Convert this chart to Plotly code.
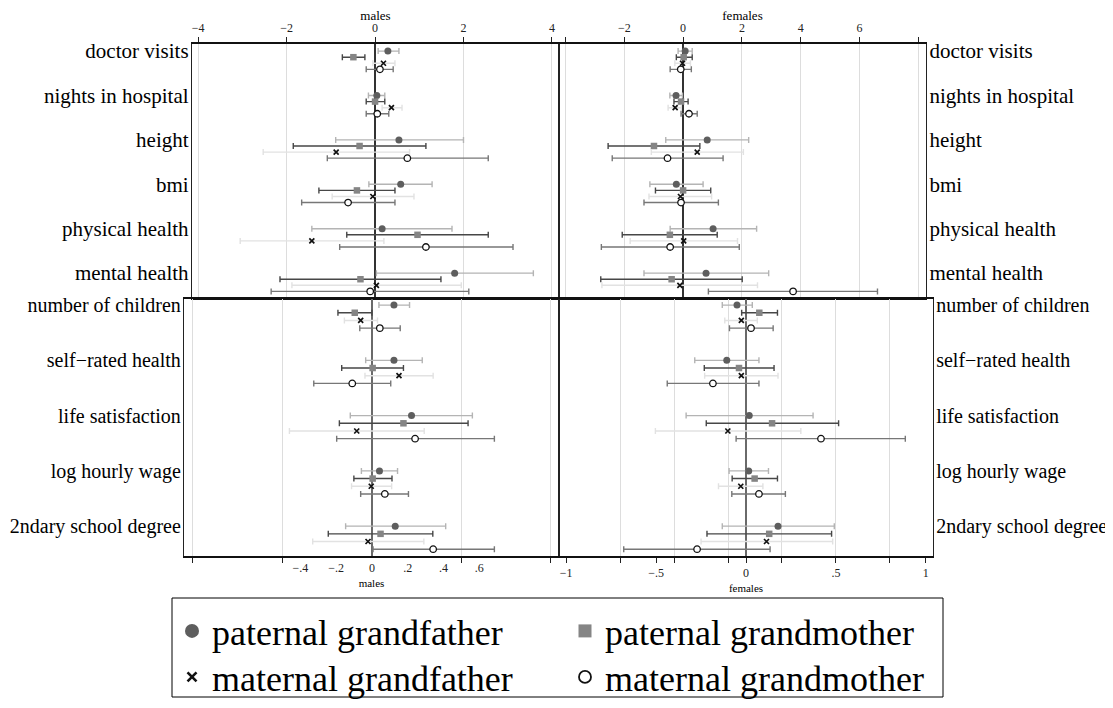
import plotly.graph_objects as go

# page is rendered with an 8px body margin; figure coordinates = page pixels - 8
PAGE_OFF = 8
FW, FH = 1113 - PAGE_OFF, 708 - PAGE_OFF

# ---------------- data ----------------
outcomes_top = ["doctor visits", "nights in hospital", "height", "bmi",
                "physical health", "mental health"]
outcomes_bottom = ["number of children", "self\u2212rated health", "life satisfaction",
                   "log hourly wage", "2ndary school degree"]
series_names = ["paternal grandfather", "paternal grandmother",
                "maternal grandfather", "maternal grandmother"]

# top-left: males
m_top_pgf = [0.29, 0.04, 0.54, 0.58, 0.16, 1.80]
m_top_pgf_lo = [0.07, -0.15, -0.89, -0.14, -1.43, 0.03]
m_top_pgf_hi = [0.54, 0.22, 2.00, 1.29, 1.74, 3.58]
m_top_pgm = [-0.49, 0.00, -0.35, -0.41, 0.96, -0.33]
m_top_pgm_lo = [-0.74, -0.20, -1.85, -1.27, -0.64, -2.15]
m_top_pgm_hi = [-0.23, 0.22, 1.15, 0.45, 2.56, 1.49]
m_top_mgf = [0.19, 0.37, -0.88, -0.05, -1.43, 0.03]
m_top_mgf_lo = [-0.05, 0.16, -2.53, -0.97, -3.05, -1.88]
m_top_mgf_hi = [0.45, 0.61, 0.78, 0.88, 0.20, 1.95]
m_top_mgm = [0.11, 0.05, 0.73, -0.61, 1.15, -0.11]
m_top_mgm_lo = [-0.20, -0.20, -1.08, -1.66, -0.80, -2.35]
m_top_mgm_hi = [0.41, 0.31, 2.56, 0.45, 3.12, 2.12]

# top-right: females
f_top_pgf = [0.07, -0.24, 0.82, -0.23, 1.02, 0.78]
f_top_pgf_lo = [-0.17, -0.45, -0.59, -1.13, -0.44, -1.33]
f_top_pgf_hi = [0.31, -0.02, 2.23, 0.68, 2.50, 2.91]
f_top_pgm = [0.02, -0.07, -0.99, 0.00, -0.45, -0.39]
f_top_pgm_lo = [-0.23, -0.31, -2.55, -0.94, -2.07, -2.80]
f_top_pgm_hi = [0.31, 0.17, 0.57, 0.94, 1.16, 2.01]
f_top_mgf = [-0.02, -0.27, 0.48, -0.09, 0.02, -0.11]
f_top_mgf_lo = [-0.28, -0.51, -1.08, -1.16, -1.80, -2.76]
f_top_mgf_hi = [0.25, -0.06, 2.05, 0.97, 1.85, 2.53]
f_top_mgm = [-0.08, 0.20, -0.53, -0.07, -0.44, 3.74]
f_top_mgm_lo = [-0.44, -0.07, -2.41, -1.33, -2.78, 0.86]
f_top_mgm_hi = [0.28, 0.48, 1.36, 1.20, 1.91, 6.61]

# bottom-left: males
m_bot_pgf = [0.123, 0.123, 0.221, 0.042, 0.130]
m_bot_pgf_lo = [0.039, -0.035, -0.121, -0.059, -0.147]
m_bot_pgf_hi = [0.210, 0.281, 0.561, 0.143, 0.412]
m_bot_pgm = [-0.096, 0.004, 0.176, 0.004, 0.048]
m_bot_pgm_lo = [-0.190, -0.169, -0.182, -0.101, -0.244]
m_bot_pgm_hi = [0.000, 0.176, 0.537, 0.112, 0.340]
m_bot_mgf = [-0.063, 0.151, -0.085, -0.004, -0.022]
m_bot_mgf_lo = [-0.154, -0.039, -0.461, -0.114, -0.331]
m_bot_mgf_hi = [0.031, 0.342, 0.292, 0.110, 0.290]
m_bot_mgm = [0.044, -0.110, 0.241, 0.072, 0.342]
m_bot_mgm_lo = [-0.068, -0.325, -0.197, -0.063, 0.006]
m_bot_mgm_hi = [0.158, 0.105, 0.684, 0.204, 0.684]

# bottom-right: females
f_bot_pgf = [-0.050, -0.107, 0.018, 0.015, 0.178]
f_bot_pgf_lo = [-0.132, -0.285, -0.333, -0.094, -0.132]
f_bot_pgf_hi = [0.035, 0.072, 0.373, 0.125, 0.491]
f_bot_pgm = [0.074, -0.039, 0.145, 0.048, 0.129]
f_bot_pgm_lo = [-0.024, -0.232, -0.221, -0.077, -0.217]
f_bot_pgm_hi = [0.175, 0.156, 0.515, 0.175, 0.476]
f_bot_mgf = [-0.026, -0.026, -0.101, -0.029, 0.114]
f_bot_mgf_lo = [-0.118, -0.230, -0.504, -0.153, -0.250]
f_bot_mgf_hi = [0.063, 0.178, 0.305, 0.094, 0.482]
f_bot_mgm = [0.028, -0.184, 0.417, 0.072, -0.272]
f_bot_mgm_lo = [-0.092, -0.438, -0.055, -0.079, -0.680]
f_bot_mgm_hi = [0.151, 0.072, 0.886, 0.219, 0.134]

top_ticks_m = [-4, -2, 0, 2, 4]
top_ticktext_m = ["\u22124", "\u22122", "0", "2", "4"]
top_ticks_f = [-4, -2, 0, 2, 4, 6, 8]
top_ticktext_f = ["", "\u22122", "0", "2", "4", "6", ""]
bot_ticks_m = [-0.4, -0.2, 0, 0.2, 0.4, 0.6]
bot_ticktext_m = ["\u2212.4", "\u2212.2", "0", ".2", ".4", ".6"]
bot_minor_m = [-1, -0.5, 0.5, 1]
bot_ticks_f = [-1, -0.5, 0, 0.5, 1]
bot_ticktext_f = ["\u22121", "\u2212.5", "0", ".5", "1"]
bot_minor_f = [-0.7, -0.4, -0.1, 0.2, 0.5, 0.8]

# ---------------- styles ----------------
SERIF = "Liberation Serif"
styles = [
    dict(symbol="circle", size=7, color="#5e5e5e", line=dict(width=0), ebar="#b4b4b4"),
    dict(symbol="square", size=6.5, color="#858585", line=dict(width=0), ebar="#474747"),
    dict(symbol="x-thin", size=5, color="#111111", line=dict(width=1.7, color="#111111"), ebar="#e2e2e2"),
    dict(symbol="circle", size=6.5, color="white", line=dict(width=1.3, color="#111111"), ebar="#777777"),
]
legend_markers = [
    dict(symbol="circle", size=14, color="#5e5e5e", line=dict(width=0)),
    dict(symbol="square", size=13, color="#858585", line=dict(width=0)),
    dict(symbol="x-thin", size=9, color="#111111", line=dict(width=2.6, color="#111111")),
    dict(symbol="circle", size=12, color="white", line=dict(width=1.8, color="#111111")),
]
OFF_TOP = 0.137
OFF_BOT = 0.139

fig = go.Figure()

panels = [
    ("x", "y", [(m_top_pgf, m_top_pgf_lo, m_top_pgf_hi), (m_top_pgm, m_top_pgm_lo, m_top_pgm_hi),
                (m_top_mgf, m_top_mgf_lo, m_top_mgf_hi), (m_top_mgm, m_top_mgm_lo, m_top_mgm_hi)], OFF_TOP),
    ("x2", "y2", [(f_top_pgf, f_top_pgf_lo, f_top_pgf_hi), (f_top_pgm, f_top_pgm_lo, f_top_pgm_hi),
                  (f_top_mgf, f_top_mgf_lo, f_top_mgf_hi), (f_top_mgm, f_top_mgm_lo, f_top_mgm_hi)], OFF_TOP),
    ("x3", "y3", [(m_bot_pgf, m_bot_pgf_lo, m_bot_pgf_hi), (m_bot_pgm, m_bot_pgm_lo, m_bot_pgm_hi),
                  (m_bot_mgf, m_bot_mgf_lo, m_bot_mgf_hi), (m_bot_mgm, m_bot_mgm_lo, m_bot_mgm_hi)], OFF_BOT),
    ("x4", "y4", [(f_bot_pgf, f_bot_pgf_lo, f_bot_pgf_hi), (f_bot_pgm, f_bot_pgm_lo, f_bot_pgm_hi),
                  (f_bot_mgf, f_bot_mgf_lo, f_bot_mgf_hi), (f_bot_mgm, f_bot_mgm_lo, f_bot_mgm_hi)], OFF_BOT),
]

for xa, ya, sers, off in panels:
    for k, (est, lo, hi) in enumerate(sers):
        st = styles[k]
        ys = [i + k * off for i in range(len(est))]
        fig.add_trace(go.Scatter(
            x=est, y=ys, xaxis=xa, yaxis=ya, mode="markers", showlegend=False,
            name=series_names[k],
            marker=dict(symbol=st["symbol"], size=st["size"], color=st["color"], line=st["line"]),
            error_x=dict(type="data", symmetric=False,
                         array=[h - e for e, h in zip(est, hi)],
                         arrayminus=[e - l for e, l in zip(est, lo)],
                         color=st["ebar"], thickness=1.4, width=3),
        ))

# legend entries
for k in range(4):
    fig.add_trace(go.Scatter(
        x=[None], y=[None], mode="markers", name=series_names[k],
        legend="legend" if k < 2 else "legend2",
        legendwidth=348 if k % 2 == 0 else 325,
        marker=legend_markers[k],
    ))


def dx(a, b):
    return [(a - PAGE_OFF) / FW, (b - PAGE_OFF) / FW]


def dy(top, bottom):
    return [1 - (bottom - PAGE_OFF) / FH, 1 - (top - PAGE_OFF) / FH]


def px(a):
    return (a - PAGE_OFF) / FW


def py(a):
    return 1 - (a - PAGE_OFF) / FH


tickfont = dict(family=SERIF, size=12, color="#222")
labfont_top = dict(family=SERIF, size=21, color="black")
labfont_bot = dict(family=SERIF, size=20, color="black")
GRID = "#dddddd"

common_x = dict(showgrid=True, gridcolor=GRID, gridwidth=1, ticks="outside", ticklen=5,
                tickcolor="#222", tickfont=tickfont, showline=True, linecolor="#111",
                mirror=True, fixedrange=True, automargin=False)
common_y = dict(showgrid=False, zeroline=False, ticks="",
                showline=True, linecolor="#222", linewidth=1.4, mirror=True, fixedrange=True,
                automargin=False, ticklabelstandoff=-2)

fig.update_layout(
    width=FW, height=FH, margin=dict(l=0, r=0, t=0, b=0, autoexpand=False),
    paper_bgcolor="white", plot_bgcolor="rgba(0,0,0,0)",
    font=dict(family=SERIF, color="black"),
    xaxis=dict(common_x, domain=dx(192, 559), anchor="y", side="top", range=[-4.14, 4.16],
               tickmode="array", tickvals=top_ticks_m, ticktext=top_ticktext_m,
               zeroline=True, zerolinecolor="#333", zerolinewidth=1.5, linewidth=1.5,
               title=dict(text="males", font=dict(family=SERIF, size=13), standoff=3)),
    yaxis=dict(common_y, domain=dy(44, 298), anchor="x", range=[5.56, -0.16], tickfont=labfont_top,
               tickmode="array", tickvals=list(range(6)), ticktext=outcomes_top, side="left"),
    xaxis2=dict(common_x, domain=dx(559, 926), anchor="y2", side="top", range=[-4.22, 8.26],
                tickmode="array", tickvals=top_ticks_f, ticktext=top_ticktext_f,
                zeroline=True, zerolinecolor="#333", zerolinewidth=1.5, linewidth=1.5,
                title=dict(text="females", font=dict(family=SERIF, size=13), standoff=3)),
    yaxis2=dict(common_y, domain=dy(44, 298), anchor="x2", range=[5.56, -0.16], tickfont=labfont_top,
                tickmode="array", tickvals=list(range(6)), ticktext=outcomes_top, side="right"),
    xaxis3=dict(common_x, domain=dx(184, 559), anchor="y3", side="bottom", range=[-1.05, 1.045],
                tickmode="array", tickvals=bot_ticks_m, ticktext=bot_ticktext_m,
                showgrid=False, ticks="",
                minor=dict(tickmode="array", tickvals=bot_minor_m, ticks="outside", ticklen=5,
                           tickcolor="#222", showgrid=True, gridcolor=GRID, gridwidth=1),
                zeroline=True, zerolinecolor="#6a6a6a", zerolinewidth=2.2, linewidth=2,
                title=dict(text="males", font=dict(family=SERIF, size=11), standoff=5)),
    yaxis3=dict(common_y, domain=dy(299, 556), anchor="x3", range=[4.54, -0.11], tickfont=labfont_bot,
                tickmode="array", tickvals=list(range(5)), ticktext=outcomes_bottom, side="left"),
    xaxis4=dict(common_x, domain=dx(559, 933), anchor="y4", side="bottom", range=[-1.04, 1.04],
                tickmode="array", tickvals=bot_ticks_f, ticktext=bot_ticktext_f,
                showgrid=False,
                minor=dict(tickmode="array", tickvals=bot_minor_f, ticks="outside", ticklen=5,
                           tickcolor="#222", showgrid=True, gridcolor=GRID, gridwidth=1),
                zeroline=True, zerolinecolor="#6a6a6a", zerolinewidth=2.2, linewidth=2,
                title=dict(text="females", font=dict(family=SERIF, size=11), standoff=5)),
    yaxis4=dict(common_y, domain=dy(299, 556), anchor="x4", range=[4.54, -0.11], tickfont=labfont_bot,
                tickmode="array", tickvals=list(range(5)), ticktext=outcomes_bottom, side="right"),
    legend=dict(orientation="h", x=px(172), xanchor="left", y=py(631), yanchor="middle",
                bgcolor="rgba(0,0,0,0)", borderwidth=0, font=dict(family=SERIF, size=36, color="black"),
                itemsizing="trace"),
    legend2=dict(orientation="h", x=px(172), xanchor="left", y=py(677), yanchor="middle",
                 bgcolor="rgba(0,0,0,0)", borderwidth=0, font=dict(family=SERIF, size=36, color="black"),
                 itemsizing="trace"),
    shapes=[dict(type="rect", xref="paper", yref="paper", x0=px(172), x1=px(943),
                 y0=py(697), y1=py(598), line=dict(color="black", width=1))],
)

fig.write_html("out.html")
